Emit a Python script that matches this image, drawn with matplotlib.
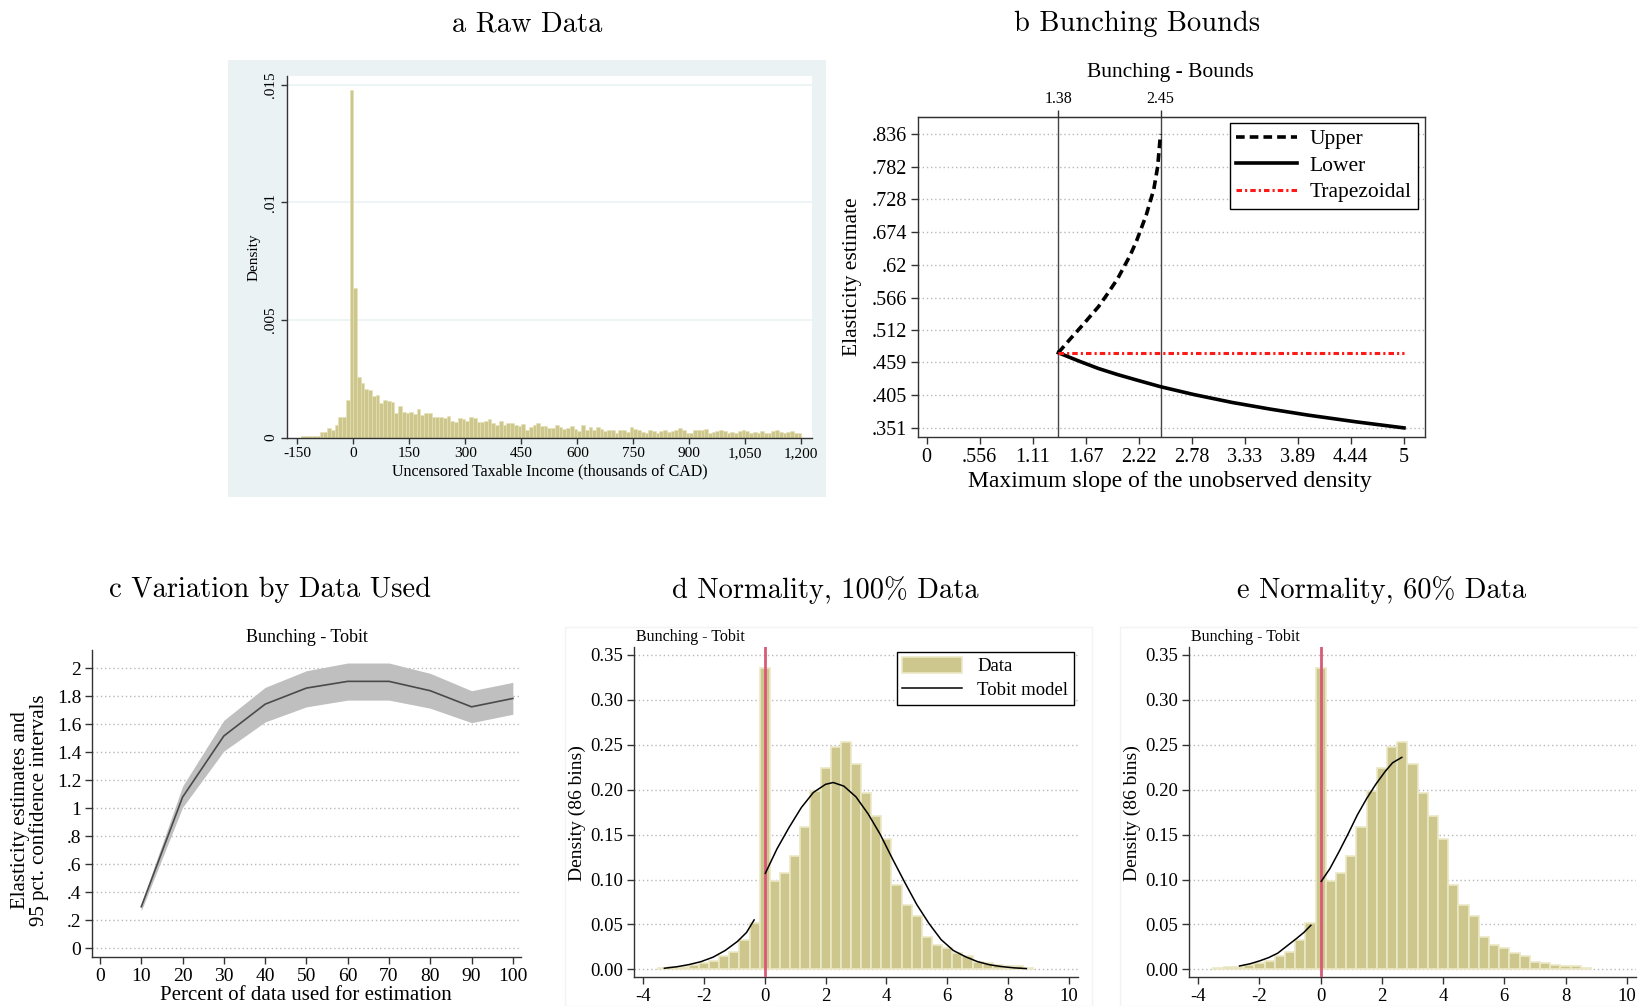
import numpy as np
import matplotlib.pyplot as plt
from matplotlib.patches import Rectangle

plt.rcParams['font.family'] = ['Liberation Serif', 'DejaVu Serif']
plt.rcParams['axes.unicode_minus'] = False

# ---------------- data ----------------
# (a) raw uncensored taxable income, bins of 10 (thousands of CAD) from -140
raw_start = -140
raw_width = 10
raw_density = [
    0.00007, 0.00006, 0.00005, 0.00006, 0.00007, 0.00024, 0.00024, 0.0004, 0.00034, 0.00054,
    0.00087, 0.00087, 0.0016, 0.0148,
    0.00635, 0.00258, 0.0023, 0.00206, 0.0020, 0.00176, 0.0018, 0.00146, 0.0016, 0.00156,
    0.00149, 0.00106, 0.00135, 0.00109, 0.00106, 0.0011, 0.00102, 0.0012, 0.00094, 0.00106,
    0.00103, 0.00089, 0.00088, 0.00089, 0.00085, 0.0009, 0.00072, 0.00067, 0.00082,
    0.00077, 0.00071, 0.00086, 0.00081, 0.00067, 0.00067, 0.00072, 0.00079, 0.00062, 0.00052,
    0.00071, 0.00055, 0.00062, 0.00062, 0.00055, 0.00048, 0.00057, 0.00031, 0.00045, 0.00055,
    0.0006, 0.0005, 0.00048, 0.00041, 0.00041, 0.00052, 0.00045, 0.00038, 0.00041, 0.00047,
    0.00035, 0.00028, 0.00055, 0.00031, 0.00043, 0.00031, 0.00043, 0.00038, 0.00027, 0.00034,
    0.00034, 0.00021, 0.00031, 0.00034, 0.00024, 0.00045, 0.00037, 0.00031,
    0.00024, 0.00018, 0.00031, 0.00028, 0.00021, 0.00028, 0.00031, 0.00024, 0.00028, 0.00031,
    0.0004, 0.00031, 0.00021, 0.00018, 0.00034, 0.00031, 0.00031, 0.00035, 0.00021, 0.00024,
    0.00028, 0.00031, 0.00028, 0.00021, 0.00024, 0.00018, 0.00028, 0.00031, 0.00028, 0.00021,
    0.00024, 0.00018, 0.00026, 0.00018, 0.00021, 0.00028, 0.00033, 0.00024, 0.00021, 0.00024,
    0.00028, 0.00018, 0.00021,
]
raw_xticks = [-150, 0, 150, 300, 450, 600, 750, 900, 1050, 1200]
raw_xlabels = ['-150', '0', '150', '300', '450', '600', '750', '900', '1,050', '1,200']
raw_yticks = [0, 0.005, 0.01, 0.015]
raw_ylabels = ['0', '.005', '.01', '.015']

# (b) bunching bounds
upper_x = [1.38, 1.5, 1.636, 1.8, 1.885, 2.0, 2.133, 2.2, 2.3, 2.38, 2.42, 2.45]
upper_y = [0.475, 0.497, 0.521, 0.551, 0.570, 0.597, 0.636, 0.660, 0.702, 0.745, 0.782, 0.836]
lower_x = [1.38, 1.6, 1.8, 2.0, 2.2, 2.45, 2.8, 3.2, 3.6, 4.0, 4.5, 5.0]
lower_y = [0.475, 0.461, 0.449, 0.439, 0.430, 0.419, 0.406, 0.393, 0.382, 0.372, 0.361, 0.351]
trap_x = [1.38, 5.0]
trap_y = [0.475, 0.475]
slope_marks = [1.38, 2.45]
b_yticks = [0.351, 0.405, 0.459, 0.512, 0.566, 0.62, 0.674, 0.728, 0.782, 0.836]
b_ylabels = ['.351', '.405', '.459', '.512', '.566', '.62', '.674', '.728', '.782', '.836']
b_xticks = [0, 0.556, 1.11, 1.67, 2.22, 2.78, 3.33, 3.89, 4.44, 5]
b_xlabels = ['0', '.556', '1.11', '1.67', '2.22', '2.78', '3.33', '3.89', '4.44', '5']

# (c) estimates by share of data used
pct_used = [10, 20, 30, 40, 50, 60, 70, 80, 90, 100]
elast = [0.297, 1.08, 1.517, 1.744, 1.859, 1.907, 1.907, 1.84, 1.725, 1.785]
ci_low = [0.268, 1.007, 1.409, 1.617, 1.725, 1.773, 1.773, 1.715, 1.612, 1.672]
ci_high = [0.32, 1.158, 1.629, 1.864, 1.983, 2.038, 2.038, 1.964, 1.84, 1.9]
c_yticks = [0, 0.2, 0.4, 0.6, 0.8, 1, 1.2, 1.4, 1.6, 1.8, 2]
c_ylabels = ['0', '.2', '.4', '.6', '.8', '1', '1.2', '1.4', '1.6', '1.8', '2']

# (d), (e) normalised income histogram and tobit fits
hist_start = -3.5
hist_width = 1 / 3
hist_density = [
    0.0011, 0.003, 0.003, 0.0048, 0.0074, 0.0097, 0.0148, 0.0189, 0.0327, 0.0512,
    0.336, 0.0984, 0.107, 0.126, 0.158, 0.1986, 0.2242, 0.2472, 0.2535, 0.2283,
    0.1967, 0.1704, 0.1455, 0.0935, 0.072, 0.0594, 0.0356, 0.0275, 0.0238, 0.0178,
    0.0148, 0.0083, 0.007, 0.005, 0.0035, 0.0033, 0.0017,
]
tob100_left_x = [-3.3, -2.9, -2.5, -2.1, -1.7, -1.3, -0.9, -0.6, -0.35]
tob100_left_y = [0.0012, 0.0028, 0.0052, 0.0085, 0.0135, 0.021, 0.031, 0.041, 0.055]
tob100_right_x = [0.02, 0.4, 0.8, 1.2, 1.6, 2.0, 2.25, 2.6, 3.0, 3.4, 3.8, 4.2,
                  4.6, 5.0, 5.4, 5.8, 6.2, 6.6, 7.0, 7.4, 7.8, 8.2, 8.6]
tob100_right_y = [0.107, 0.134, 0.158, 0.180, 0.197, 0.206, 0.208, 0.204, 0.192, 0.173, 0.150, 0.123,
                  0.097, 0.072, 0.051, 0.033, 0.021, 0.014, 0.0085, 0.005, 0.003, 0.0016, 0.0008]
tob60_left_x = [-2.65, -2.3, -2.0, -1.7, -1.4, -1.1, -0.8, -0.55, -0.32]
tob60_left_y = [0.0037, 0.0062, 0.0093, 0.013, 0.018, 0.026, 0.034, 0.041, 0.049]
tob60_right_x = [0.02, 0.3, 0.6, 0.9, 1.2, 1.5, 1.8, 2.1, 2.35, 2.65]
tob60_right_y = [0.098, 0.112, 0.131, 0.151, 0.172, 0.190, 0.206, 0.220, 0.230, 0.236]
de_yticks = [0, 0.05, 0.1, 0.15, 0.2, 0.25, 0.3, 0.35]
de_ylabels = ['0.00', '0.05', '0.10', '0.15', '0.20', '0.25', '0.30', '0.35']
de_xticks = [-4, -2, 0, 2, 4, 6, 8, 10]

# ---------------- figure ----------------
W, H = 1638, 1006
fig = plt.figure(figsize=(W / 100, H / 100), dpi=100)

KHAKI = '#cdc78d'
AXC = '#333333'
GRID = '#b8b8b8'


def ax_at(x0, y0, x1, y1):
    # pixel box (left, top, right, bottom) -> axes
    return fig.add_axes([x0 / W, 1 - y1 / H, (x1 - x0) / W, (y1 - y0) / H])


def ftext(x, y, s, **kw):
    kw.setdefault('ha', 'center')
    kw.setdefault('va', 'center')
    return fig.text(x / W, 1 - y / H, s, **kw)


def style(ax, spines=('left', 'bottom'), size=14):
    for k, sp in ax.spines.items():
        sp.set_visible(k in spines)
        sp.set_color(AXC)
        sp.set_linewidth(1.0)
    ax.tick_params(direction='out', length=5, width=1, color=AXC, labelsize=size, pad=3)


TITLE = dict(family='cmr10', fontsize=20.5)

# ---- (a) Raw Data ----
fig.patches.append(Rectangle((228 / W, 1 - 496.7 / H), 598 / W, 436.7 / H,
                             transform=fig.transFigure, facecolor='#eaf2f3',
                             edgecolor='none', zorder=-5))
ax = ax_at(287.2, 76, 811.8, 437.5)
ax.set_zorder(2)
ax.bar(raw_start + np.arange(len(raw_density)) * raw_width, raw_density, width=raw_width,
       align='edge', color=KHAKI, edgecolor='#e6e1b4', linewidth=0.4, zorder=2)
ax.set_xlim(-177, 1228)
ax.set_ylim(0, 0.01538)
ax.set_xticks(raw_xticks)
ax.set_xticklabels(raw_xlabels)
ax.set_yticks(raw_yticks)
ax.set_yticklabels(raw_ylabels, rotation=90, va='center')
for v in raw_yticks[1:]:
    ax.axhline(v, color='#eaf2f3', lw=1.2, zorder=1)
style(ax, size=11)
ax.tick_params(length=4)
ftext(254, 257, 'Density', rotation=90, fontsize=11)
ftext(549.5, 471, 'Uncensored Taxable Income (thousands of CAD)', fontsize=11.5)
ftext(527.5, 24, 'a Raw Data', **TITLE)

# ---- (b) Bunching Bounds ----
ax = ax_at(918, 117, 1425, 437)
for v in b_yticks:
    ax.axhline(v, color=GRID, lw=1, ls=(0, (1, 2)), zorder=1)
for m in slope_marks:
    ax.axvline(m, color='#444444', lw=1, zorder=2)
ax.plot(upper_x, upper_y, color='black', lw=2.6, dashes=(2.4, 1.4), label='Upper', zorder=3)
ax.plot(lower_x, lower_y, color='black', lw=2.6, label='Lower', zorder=3)
ax.plot(trap_x, trap_y, color='#ff1a1a', lw=2.2, dashes=(1.8, 1.0, 0.7, 1.0),
        label='Trapezoidal', zorder=3)
ax.set_xlim(-0.09, 5.22)
ax.set_ylim(0.336, 0.864)
ax.set_xticks(b_xticks)
ax.set_xticklabels(b_xlabels)
ax.set_yticks(b_yticks)
ax.set_yticklabels(b_ylabels)
style(ax, spines=('left', 'bottom', 'top', 'right'), size=14.5)
top = ax.secondary_xaxis('top')
top.set_xticks(slope_marks)
top.set_xticklabels(['1.38', '2.45'])
top.tick_params(direction='out', length=5, width=1, color=AXC, labelsize=11.5, pad=2)
leg = ax.legend(loc='upper right', bbox_to_anchor=(0.986, 0.982), borderaxespad=0,
                fancybox=False, framealpha=1, edgecolor='black', fontsize=15.5,
                handlelength=2.8, handletextpad=0.6, labelspacing=0.3, borderpad=0.3)
leg.get_frame().set_linewidth(1)
ftext(1170, 73, 'Bunching - Bounds', fontsize=15.5)
ftext(852, 277, 'Elasticity estimate', rotation=90, fontsize=15.5)
ftext(1170, 482, 'Maximum slope of the unobserved density', fontsize=17)
ftext(1137, 24, 'b Bunching Bounds', **TITLE)

# ---- (c) Variation by Data Used ----
ax = ax_at(92.4, 650, 520.7, 956.7)
for v in c_yticks:
    ax.axhline(v, color=GRID, lw=1, ls=(0, (1, 2)), zorder=1)
ax.fill_between(pct_used, ci_low, ci_high, color='#bfbfbf', lw=0, zorder=2)
ax.plot(pct_used, elast, color='#4a4a4a', lw=1.2, zorder=3)
ax.set_xlim(-1.84, 101.9)
ax.set_ylim(-0.06, 2.131)
ax.set_xticks(range(0, 101, 10))
ax.set_yticks(c_yticks)
ax.set_yticklabels(c_ylabels)
style(ax, size=14)
ftext(307, 638, 'Bunching - Tobit', fontsize=13)
ftext(30, 810, 'Elasticity estimates and\n95 pct. confidence intervals', rotation=90,
      fontsize=15, linespacing=1.0)
ftext(306, 995, 'Percent of data used for estimation', fontsize=15)
ftext(270, 590, 'c Variation by Data Used', **TITLE)


# ---- (d), (e) Normality ----
def normality_panel(x0, x1, lx, ly, rx, ry, sub_x, ylab_x, box, legend):
    fig.patches.append(Rectangle((box[0] / W, 0), (box[1] - box[0]) / W, 1 - 627 / H,
                                 transform=fig.transFigure, facecolor='none',
                                 edgecolor='#f3f3f3', lw=1, zorder=-5))
    ax = ax_at(x0, 647, x1, 977.3)
    for v in de_yticks:
        ax.axhline(v, color=GRID, lw=1, ls=(0, (1, 2)), zorder=1)
    bars = ax.bar(hist_start + np.arange(len(hist_density)) * hist_width, hist_density,
                  width=hist_width, align='edge', color=KHAKI, edgecolor='#ebe8c6',
                  linewidth=1.2, zorder=2)
    ax.axvline(0, color='#d85a78', lw=2, zorder=3)
    fit, = ax.plot(rx, ry, color='black', lw=1.1, zorder=4)
    ax.plot(lx, ly, color='black', lw=1.1, zorder=4)
    ax.set_xlim(-4.3, 10.3)
    ax.set_ylim(-0.0089, 0.3589)
    ax.set_xticks(de_xticks)
    ax.set_yticks(de_yticks)
    ax.set_yticklabels(de_ylabels)
    style(ax, size=13.5)
    if legend:
        lg = ax.legend([bars, fit], ['Data', 'Tobit model'], loc='upper right',
                       bbox_to_anchor=(0.9905, 0.986), borderaxespad=0,
                       fancybox=False, framealpha=1, edgecolor='black', fontsize=13.5,
                       handlelength=3.2, handleheight=0.9, handletextpad=0.8,
                       labelspacing=0.3, borderpad=0.3)
        lg.get_frame().set_linewidth(1)
    ftext(sub_x, 637, 'Bunching - Tobit', fontsize=11.5, ha='left')
    ftext(ylab_x, 813, 'Density (86 bins)', rotation=90, fontsize=14)


normality_panel(634, 1078, tob100_left_x, tob100_left_y, tob100_right_x, tob100_right_y,
                636.5, 577, (565, 1092), True)
ftext(825, 590, 'd Normality, 100% Data', **TITLE)
normality_panel(1189, 1636, tob60_left_x, tob60_left_y, tob60_right_x, tob60_right_y,
                1191, 1132.5, (1120, 1660), False)
ftext(1382, 590, 'e Normality, 60% Data', **TITLE)

fig.savefig('out.png', dpi=100)
